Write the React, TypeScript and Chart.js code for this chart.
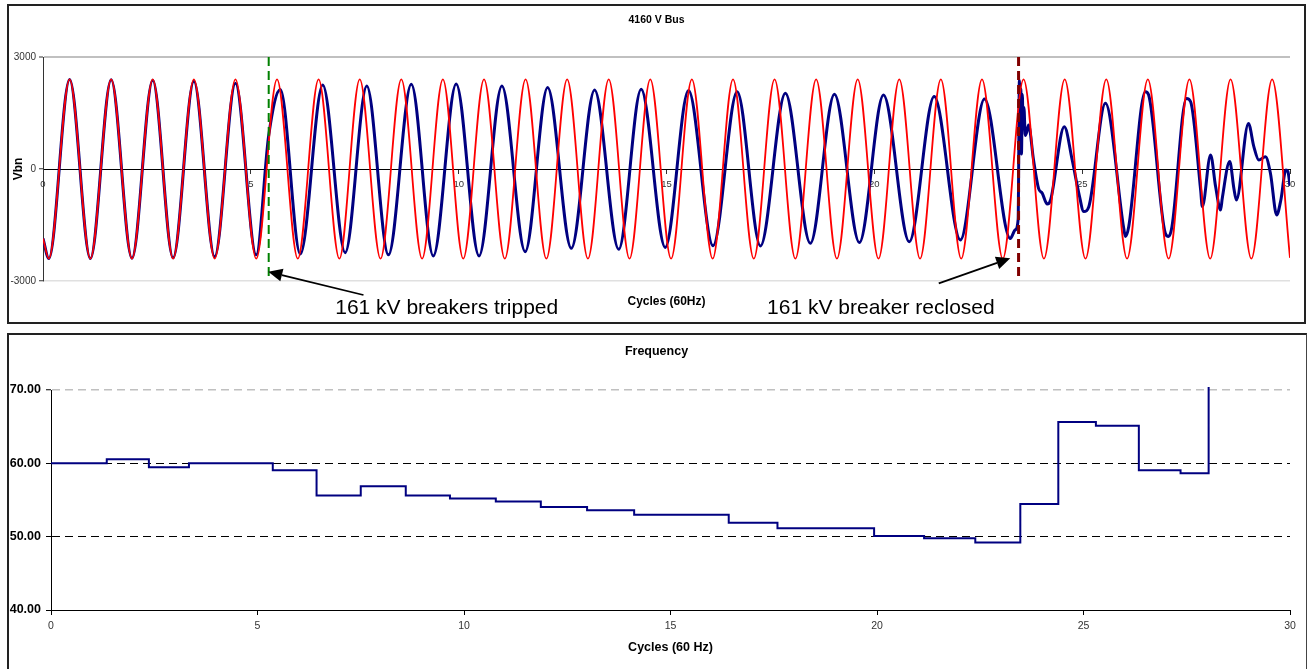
import React, { useEffect, useRef } from 'react';
import { Chart, registerables } from 'chart.js';

Chart.register(...registerables);

const FONT = "'Liberation Sans', Arial, Helvetica, sans-serif";

// ---- Top panel: 4160 V Bus (Vbn) ----
// Reference 60 Hz wave: extremes (cycles, volts)
const RED_X = [
  0, 0.14, 0.64, 1.14, 1.64, 2.14, 2.64, 3.13, 3.63, 4.13, 4.63, 5.13, 5.63, 6.13, 6.63,
  7.13, 7.62, 8.12, 8.62, 9.12, 9.62, 10.11, 10.61, 11.11, 11.61, 12.11, 12.61, 13.11, 13.61,
  14.11, 14.61, 15.11, 15.61, 16.11, 16.6, 17.1, 17.6, 18.1, 18.6, 19.1, 19.6, 20.1, 20.6,
  21.1, 21.6, 22.09, 22.59, 23.09, 23.59, 24.08, 24.58, 25.08, 25.58, 26.08, 26.58, 27.08,
  27.58, 28.08, 28.57, 29.07, 29.57, 30,
];
const RED_Y = [
  -1860, -2400, 2400, -2400, 2400, -2400, 2400, -2400, 2400, -2400, 2400, -2400, 2400, -2400, 2400,
  -2400, 2400, -2400, 2400, -2400, 2400, -2400, 2400, -2400, 2400, -2400, 2400, -2400, 2400,
  -2400, 2400, -2400, 2400, -2400, 2400, -2400, 2400, -2400, 2400, -2400, 2400, -2400, 2400,
  -2400, 2400, -2400, 2400, -2400, 2400, -2400, 2400, -2400, 2400, -2400, 2400, -2400,
  2400, -2400, 2400, -2400, 2400, -2380,
];

const BLUE_X = [
  0, 0.14, 0.64, 1.14, 1.64, 2.14, 2.64, 3.13, 3.63, 4.13, 4.63, 5.13, 5.43,
  5.71, 6.19, 6.73, 7.27, 7.79, 8.31, 8.86, 9.39, 9.94, 10.49,
  11.04, 11.6, 12.14, 12.71, 13.27, 13.85, 14.39, 14.97, 15.53, 16.12,
  16.7, 17.26, 17.86, 18.46, 19.04, 19.64, 20.22, 20.84, 21.44, 22.07,
  22.65, 23.27, 23.39, 23.46, 23.49, 23.51, 23.525, 23.54, 23.56, 23.58,
  23.6, 23.63, 23.67, 23.71, 23.83, 23.95, 24.04, 24.16, 24.24, 24.57,
  24.76, 24.92, 25.04, 25.16, 25.56, 26.0, 26.04, 26.12, 26.52, 26.6,
  27.0, 27.08, 27.16, 27.51, 27.61, 27.85, 27.89, 28.09, 28.21, 28.33,
  28.37, 28.55, 28.65, 28.71, 29.0, 29.13, 29.25, 29.41, 29.53, 29.68,
  29.78, 29.9, 29.95, 30,
];
const BLUE_Y = [
  -1860, -2400, 2400, -2400, 2390, -2390, 2380, -2380, 2350, -2350, 2300, -2300, 900,
  2130, -2280, 2250, -2240, 2220, -2300, 2270, -2330, 2280, -2330,
  2220, -2215, 2180, -2125, 2116, -2150, 2134, -2100, 2100, -2055,
  2070, -2060, 2030, -1990, 2000, -1970, 1980, -1950, 1940, -1900,
  1875, -1860, -1630, -1350, 2380, 1500, 2150, 400, 2000, 1100,
  1650, 900, 1000, 1180, 240, -520, -650, -940, -830, 1130,
  240, -650, -1140, -1010, 1760, -1590, -1810, -1545, 2070, 1980,
  -1720, -1810, -1545, 1890, 1800, -560, -1010, 375, -470, -1100,
  -790, 200, -520, -830, 1220, 600, 240, 330, -120, -1230,
  -830, -30, -70, -450,
];

// Event markers (cycles): breakers tripped, breaker reclosed
const EVENT_X = [5.43, 23.47];
const EVENT_Y_SPAN = [3000, -2885];

// ---- Bottom panel: Frequency (step series) ----
const FREQ_X = [
  0, 1.35, 2.37, 3.34, 5.37, 6.43, 7.5, 8.59, 9.66, 10.77, 11.86, 12.98,
  14.12, 16.41, 17.59, 19.93, 21.14, 22.38, 23.47, 24.39, 25.3, 26.34, 27.35, 28.03,
];
const FREQ_Y = [
  60.0, 60.55, 59.45, 60.0, 59.05, 55.63, 56.86, 55.63, 55.2, 54.8, 54.04, 53.6,
  53.0, 51.9, 51.15, 50.1, 49.8, 49.2, 54.45, 65.63, 65.13, 59.05, 58.64, 70.4,
];

// Annotations (data coordinates of the top chart)
const NOTES = [
  { text: '161 kV breakers tripped', x: 7.03, y: -3871 },
  { text: '161 kV breaker reclosed', x: 17.42, y: -3871 },
];
const ARROWS = [
  { from: [7.71, -3375], to: [5.42, -2751] },
  { from: [21.55, -3062], to: [23.27, -2392] },
];

const xy = (xs: number[], ys: number[]) => xs.map((x, i) => ({ x, y: ys[i] }));

// Invisible right-hand spacer axis so that titles centre on the whole panel
const spacerAxis = (w: number) => ({
  type: 'linear',
  position: 'right',
  display: true,
  min: 0,
  max: 1,
  grid: { display: false, drawTicks: false },
  ticks: { display: false },
  border: { display: false },
  title: { display: false },
  afterFit: (s: any) => {
    s.width = w;
  },
});

const annotPlugin = {
  id: 'annot',
  afterDraw(chart: any) {
    const { ctx } = chart;
    const sx = chart.scales.x;
    const sy = chart.scales.y;
    ctx.save();
    ctx.fillStyle = '#000';
    ctx.strokeStyle = '#000';
    for (const a of ARROWS) {
      const x1 = sx.getPixelForValue(a.from[0]);
      const y1 = sy.getPixelForValue(a.from[1]);
      const x2 = sx.getPixelForValue(a.to[0]);
      const y2 = sy.getPixelForValue(a.to[1]);
      const ang = Math.atan2(y2 - y1, x2 - x1);
      const hl = 14;
      const hw = 6.5;
      const bx = x2 - hl * Math.cos(ang);
      const by = y2 - hl * Math.sin(ang);
      ctx.lineWidth = 1.8;
      ctx.beginPath();
      ctx.moveTo(x1, y1);
      ctx.lineTo(bx, by);
      ctx.stroke();
      ctx.beginPath();
      ctx.moveTo(x2, y2);
      ctx.lineTo(bx + hw * Math.sin(ang), by - hw * Math.cos(ang));
      ctx.lineTo(bx - hw * Math.sin(ang), by + hw * Math.cos(ang));
      ctx.closePath();
      ctx.fill();
    }
    ctx.font = `21px ${FONT}`;
    ctx.textAlign = 'left';
    ctx.textBaseline = 'alphabetic';
    for (const n of NOTES) {
      ctx.fillText(n.text, sx.getPixelForValue(n.x), sy.getPixelForValue(n.y));
    }
    ctx.restore();
  },
};

export default function App() {
  const topRef = useRef<HTMLCanvasElement>(null);
  const botRef = useRef<HTMLCanvasElement>(null);

  useEffect(() => {
    const top = new Chart(topRef.current as HTMLCanvasElement, {
      type: 'line',
      data: {
        datasets: [
          {
            label: 'Breakers tripped',
            data: [{ x: EVENT_X[0], y: EVENT_Y_SPAN[0] }, { x: EVENT_X[0], y: EVENT_Y_SPAN[1] }],
            borderColor: '#008000',
            borderWidth: 2,
            borderDash: [9, 5],
            pointRadius: 0,
          },
          {
            label: 'Breaker reclosed',
            data: [{ x: EVENT_X[1], y: EVENT_Y_SPAN[0] }, { x: EVENT_X[1], y: EVENT_Y_SPAN[1] }],
            borderColor: '#800000',
            borderWidth: 3,
            borderDash: [9, 5],
            pointRadius: 0,
          },
          {
            label: 'Reference',
            data: xy(RED_X, RED_Y),
            borderColor: '#ff0000',
            borderWidth: 1.8,
            pointRadius: 0,
            cubicInterpolationMode: 'monotone',
          },
          {
            label: 'Vbn',
            data: xy(BLUE_X, BLUE_Y),
            borderColor: '#000080',
            borderWidth: 3,
            pointRadius: 0,
            cubicInterpolationMode: 'monotone',
            borderJoinStyle: 'round',
          },
        ],
      },
      options: {
        responsive: false,
        animation: false,
        events: [],
        layout: { padding: { left: 0, right: 0, top: 0, bottom: 0 } },
        plugins: {
          legend: { display: false },
          tooltip: { enabled: false },
          title: {
            display: true,
            text: '4160 V Bus',
            color: '#000',
            font: { family: FONT, size: 10.5, weight: 'bold' },
            padding: { top: 13.7, bottom: 30.7 },
          },
          subtitle: {
            display: true,
            position: 'bottom',
            fullSize: false,
            text: 'Cycles (60Hz)',
            color: '#000',
            font: { family: FONT, size: 12, weight: 'bold' },
            padding: { top: 13.8, bottom: 15.8 },
          },
        },
        scales: {
          x: {
            type: 'linear',
            position: { y: 0 },
            min: 0,
            max: 30,
            ticks: {
              stepSize: 5,
              autoSkip: false,
              maxRotation: 0,
              color: '#333',
              font: { family: FONT, size: 9.5 },
              padding: 6,
              callback: (v: any) => String(v),
            },
            grid: { drawOnChartArea: false, drawTicks: true, tickLength: 4, tickColor: '#333', tickWidth: 1 },
            border: { color: '#000', width: 1 },
          },
          y: {
            type: 'linear',
            position: 'left',
            min: -3000,
            max: 3000,
            ticks: {
              stepSize: 3000,
              color: '#333',
              font: { family: FONT, size: 10 },
              padding: 3,
              callback: (v: any) => String(v),
            },
            grid: {
              color: (c: any) =>
                c.tick && c.tick.value === 3000 ? '#c0c0c0' : c.tick && c.tick.value === -3000 ? '#e0e0e0' : 'rgba(0,0,0,0)',
              lineWidth: (c: any) => (c.tick && c.tick.value === 3000 ? 2 : 1.5),
              tickLength: 4,
              tickColor: '#333',
              tickWidth: 1,
            },
            border: { color: '#333', width: 1 },
            title: {
              display: true,
              text: 'Vbn',
              color: '#000',
              font: { family: FONT, size: 12, weight: 'bold' },
              padding: { top: 11.1, bottom: 0 },
            },
            afterFit: (s: any) => {
              s.width = 43;
            },
          },
          yR: spacerAxis(23),
        },
      } as any,
      plugins: [annotPlugin],
    });

    const bot = new Chart(botRef.current as HTMLCanvasElement, {
      type: 'line',
      data: {
        datasets: [
          {
            label: 'Frequency',
            data: xy(FREQ_X, FREQ_Y),
            borderColor: '#000080',
            borderWidth: 2,
            pointRadius: 0,
            stepped: 'before',
            clip: 8,
          },
        ],
      },
      options: {
        responsive: false,
        animation: false,
        events: [],
        layout: { padding: { left: 0, right: 0, top: 0, bottom: 0 } },
        plugins: {
          legend: { display: false },
          tooltip: { enabled: false },
          title: {
            display: true,
            text: 'Frequency',
            color: '#000',
            font: { family: FONT, size: 12.5, weight: 'bold' },
            padding: { top: 14.5, bottom: 30.5 },
          },
        },
        scales: {
          x: {
            type: 'linear',
            position: 'bottom',
            min: 0,
            max: 30,
            ticks: {
              stepSize: 5,
              autoSkip: false,
              maxRotation: 0,
              color: '#333',
              font: { family: FONT, size: 10.5 },
              padding: 4.4,
              callback: (v: any) => String(v),
            },
            grid: { drawOnChartArea: false, drawTicks: true, tickLength: 5, tickColor: '#000', tickWidth: 1 },
            border: { color: '#000', width: 1 },
            title: {
              display: true,
              text: 'Cycles (60 Hz)',
              color: '#000',
              font: { family: FONT, size: 12.5, weight: 'bold' },
              padding: { top: 0, bottom: 13.5 },
            },
            afterFit: (s: any) => {
              s.height = 59;
            },
          },
          y: {
            type: 'linear',
            position: 'left',
            min: 40,
            max: 70,
            ticks: {
              stepSize: 10,
              color: '#000',
              font: { family: FONT, size: 12.5, weight: 'bold' },
              padding: 5,
              callback: (v: any) => Number(v).toFixed(2),
            },
            grid: {
              color: (c: any) =>
                c.tick && c.tick.value === 70 ? '#c0c0c0' : c.tick && c.tick.value === 40 ? 'rgba(0,0,0,0)' : '#000',
              lineWidth: (c: any) => (c.tick && c.tick.value === 70 ? 1.5 : 1),
              tickLength: 5,
              tickColor: '#000',
              tickWidth: 1,
            },
            border: { color: '#000', width: 1, dash: [8, 5] },
            afterFit: (s: any) => {
              s.width = 51;
            },
          },
          yR: spacerAxis(23),
        },
      } as any,
    });

    return () => {
      top.destroy();
      bot.destroy();
    };
  }, []);

  return (
    <div style={{ position: 'fixed', left: 0, top: 0, width: 1313, height: 669, overflow: 'hidden', background: '#fff' }}>
      <canvas ref={topRef} width={1313} height={325} style={{ position: 'absolute', left: 0, top: 0, display: 'block' }} />
      <canvas ref={botRef} width={1313} height={339} style={{ position: 'absolute', left: 0, top: 330, display: 'block' }} />
      <div
        style={{
          position: 'absolute',
          left: 7,
          top: 4,
          width: 1299,
          height: 320,
          boxSizing: 'border-box',
          border: '2px solid #222',
          pointerEvents: 'none',
        }}
      />
      <div
        style={{
          position: 'absolute',
          left: 7,
          top: 333,
          width: 1300,
          height: 400,
          boxSizing: 'border-box',
          borderTop: '2px solid #222',
          borderLeft: '2px solid #222',
          borderRight: '1px solid #444',
          pointerEvents: 'none',
        }}
      />
    </div>
  );
}
